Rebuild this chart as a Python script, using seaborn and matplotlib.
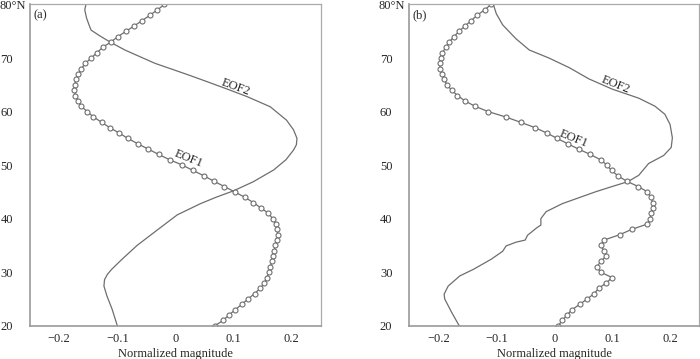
import numpy as np
import pandas as pd
import matplotlib
matplotlib.use("Agg")
import matplotlib.pyplot as plt
import seaborn as sns

# ---------------- data ----------------
lat_markers = list(range(80, 19, -1))

a_eof1 = [-0.019, -0.031, -0.044, -0.057, -0.071, -0.085, -0.099, -0.111, -0.125, -0.135,
          -0.145, -0.155, -0.162, -0.167, -0.171, -0.173, -0.174, -0.172, -0.168, -0.162,
          -0.152, -0.141, -0.127, -0.113, -0.097, -0.082, -0.065, -0.047, -0.029, -0.010,
          0.012, 0.030, 0.049, 0.066, 0.084, 0.102, 0.119, 0.134, 0.147, 0.160,
          0.167, 0.173, 0.175, 0.176, 0.174, 0.172, 0.170, 0.167, 0.166, 0.163,
          0.161, 0.157, 0.153, 0.146, 0.136, 0.125, 0.114, 0.103, 0.092, 0.082,
          0.068]

a_eof2_lat = [80, 79, 77.5, 76, 75.2, 74, 72.9, 71.5, 70.2, 69, 67.8, 66.7, 65.6, 64.2, 62.8,
              60.9, 58.4, 56.6, 55.0, 53.8, 52.8, 51.0, 49.1, 46.9, 45.2, 44.0, 42.8, 40.7,
              37.9, 35.0, 32.2, 30.5, 29.6, 28.6, 27.4, 25.6, 23.1, 20.0]
a_eof2 = [-0.154, -0.156, -0.153, -0.148, -0.145, -0.128, -0.111, -0.087, -0.060, -0.035,
          -0.003, 0.026, 0.054, 0.089, 0.123, 0.163, 0.191, 0.203, 0.209, 0.208, 0.203,
          0.190, 0.169, 0.134, 0.100, 0.070, 0.043, 0.003, -0.031, -0.066, -0.094, -0.110,
          -0.117, -0.122, -0.123, -0.118, -0.109, -0.100]

b_eof1 = [-0.109, -0.120, -0.133, -0.143, -0.154, -0.164, -0.173, -0.181, -0.187, -0.193,
          -0.196, -0.197, -0.197, -0.194, -0.190, -0.185, -0.177, -0.167, -0.154, -0.137,
          -0.114, -0.084, -0.058, -0.033, -0.013, 0.005, 0.023, 0.042, 0.062, 0.080,
          0.091, 0.099, 0.110, 0.125, 0.145, 0.161, 0.167, 0.170, 0.170, 0.167,
          0.166, 0.161, 0.134, 0.113, 0.086, 0.080, 0.086, 0.090, 0.080, 0.074,
          0.080, 0.100, 0.090, 0.077, 0.069, 0.057, 0.044, 0.031, 0.022, 0.014,
          0.007]

b_eof2_lat = [80, 78.3, 76.2, 73.6, 71.5, 70.0, 68.2, 66.1, 64.2, 62.5, 61.0, 59.5, 57.6, 55.1,
              53.3, 51.8, 50.3, 48.1, 46.9, 46.0, 45.0, 42.8, 41.3, 40.0, 38.8, 38.3, 36.9,
              36.0, 35.6, 34.9, 33.9, 32.4, 30.5, 29.3, 27.4, 25.9, 25.0, 22.5, 20.0]
b_eof2 = [-0.105, -0.100, -0.089, -0.066, -0.043, -0.009, 0.026, 0.060, 0.100, 0.146, 0.174,
          0.191, 0.200, 0.204, 0.202, 0.189, 0.163, 0.146, 0.127, 0.100, 0.071, 0.014,
          -0.014, -0.023, -0.023, -0.030, -0.046, -0.050, -0.066, -0.083, -0.089, -0.109,
          -0.140, -0.163, -0.183, -0.190, -0.189, -0.177, -0.164]

x_ticks = [-0.2, -0.1, 0, 0.1, 0.2]
x_tick_labels = ["\u22120.2", "\u22120.1", "0", "0.1", "0.2"]
y_ticks = [20, 25, 30, 35, 40, 45, 50, 55, 60, 65, 70, 75, 80]
y_tick_labels = ["20", "", "30", "", "40", "", "50", "", "60", "", "70", "", ""]
top_lat_label = "80\u00b0N"
panel_labels = ["(a)", "(b)"]
xlabel = "Normalized magnitude"

# ---------------- style ----------------
sns.set_theme(style="white")
plt.rcParams['font.family'] = ['Liberation Serif', 'DejaVu Serif']
plt.rcParams['font.size'] = 9

line_col = "#6e6e6e"

fig = plt.figure(figsize=(7.0, 3.59), dpi=100)
ax_a = fig.add_axes([0.043, 0.0927, 0.4153, 0.8948])
ax_b = fig.add_axes([0.5848, 0.0927, 0.4138, 0.8948])

panels = [
    (ax_a, a_eof1, a_eof2_lat, a_eof2, (0.104, 64.6, -20), (0.022, 51.1, -22)),
    (ax_b, b_eof1, b_eof2_lat, b_eof2, (0.106, 65.0, -22), (0.033, 55.0, -22)),
]

for i, (ax, e1, l2, e2, t2, t1) in enumerate(panels):
    d1 = pd.DataFrame({"x": e1, "lat": lat_markers})
    d2 = pd.DataFrame({"x": e2, "lat": l2})
    sns.lineplot(data=d2, x="x", y="lat", sort=False, estimator=None, ax=ax,
                 color=line_col, linewidth=0.9)
    sns.lineplot(data=d1, x="x", y="lat", sort=False, estimator=None, ax=ax,
                 color=line_col, linewidth=0.9, marker="o", markersize=3.6,
                 markerfacecolor="white", markeredgecolor=line_col, markeredgewidth=0.8)
    ax.set_xlim(-0.25, 0.25)
    ax.set_ylim(20, 80)
    ax.set_xticks(x_ticks)
    ax.set_xticklabels(x_tick_labels)
    ax.set_yticks(y_ticks)
    ax.set_yticklabels(y_tick_labels)
    ax.set_xlabel(xlabel, fontsize=9, labelpad=2)
    ax.set_ylabel("")
    ax.tick_params(axis="both", direction="out", length=3, width=0.8, color="#888888",
                   labelsize=9)
    ax.tick_params(axis="y", pad=9.2)
    ax.tick_params(axis="x", pad=2.5)
    ax.annotate(top_lat_label, xy=(0, 80), xycoords=ax.get_yaxis_transform(),
                xytext=(-3.2, -1.0), textcoords="offset points",
                ha="right", va="center", fontsize=9, annotation_clip=False)
    for side in ["left", "bottom"]:
        ax.spines[side].set_color("#999999")
        ax.spines[side].set_linewidth(1.2)
    for side in ["top", "right"]:
        ax.spines[side].set_color("#aaaaaa")
        ax.spines[side].set_linewidth(0.9)
    ax.text(-0.245, 78.0, panel_labels[i], ha="left", va="center", fontsize=9)
    ax.text(t2[0], t2[1], "EOF2", ha="center", va="center", rotation=t2[2], fontsize=9)
    ax.text(t1[0], t1[1], "EOF1", ha="center", va="center", rotation=t1[2], fontsize=9)

fig.savefig("out.png", dpi=100)
